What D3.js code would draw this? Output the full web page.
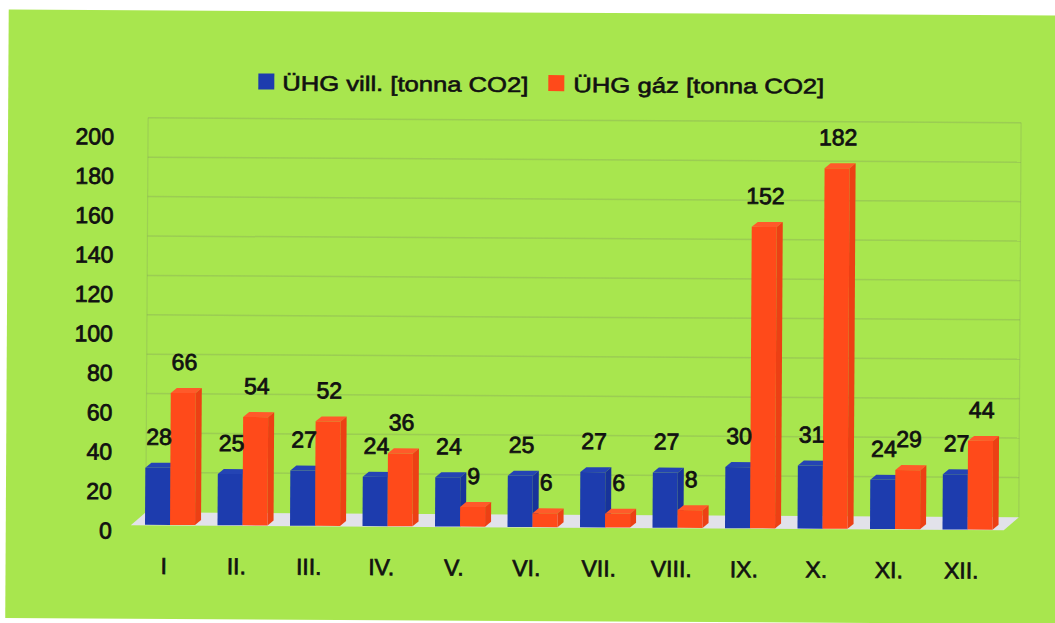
<!DOCTYPE html>
<html>
<head>
<meta charset="utf-8">
<script src="https://cdn.jsdelivr.net/npm/d3@7"></script>
<style>
  html, body { margin: 0; padding: 0; background: #ffffff; }
  svg { display: block; }
  text { font-family: "Liberation Sans", Arial, sans-serif; fill: #111; }
</style>
</head>
<body>
<svg id="chart" width="1055" height="623"></svg>
<script>
// Monthly greenhouse-gas emissions (tonnes CO2), electricity vs. gas
const months = ["I", "II.", "III.", "IV.", "V.", "VI.", "VII.", "VIII.", "IX.", "X.", "XI.", "XII."];
const elecValues = [28, 25, 27, 24, 24, 25, 27, 27, 30, 31, 24, 27];
const gasValues = [66, 54, 52, 36, 9, 6, 6, 8, 152, 182, 29, 44];
const seriesNames = ["ÜHG vill. [tonna CO2]", "ÜHG gáz [tonna CO2]"];
const seriesKeys = ["elec", "gas"];
const yTicks = [0, 20, 40, 60, 80, 100, 120, 140, 160, 180, 200];

const W = 1055, H = 623;
const colors = {
  elec: { front: "#1d3cae", top: "#2444b4", side: "#17339a" },
  gas:  { front: "#ff4a1a", top: "#ff5a2a", side: "#ec4014" }
};
const depthX = 6, depthY = 5;      // bar depth offsets
const wallX = 15, wallY = 13;      // floor / back wall offset
const floorFront = 527.5;

const rows = months.map((m, i) => ({ month: m, elec: elecValues[i], gas: gasValues[i] }));

const svg = d3.select("#chart");
const root = svg.append("g").attr("transform", `rotate(0.33, ${W / 2}, ${H / 2})`);

// green panel
root.append("rect")
  .attr("x", 7).attr("y", 12.5)
  .attr("width", 1053).attr("height", 608.5)
  .attr("fill", "#a8e64e");

const x0 = d3.scaleBand().domain(months).range([135, 1005]).paddingInner(0.31).paddingOuter(0.155);
const x1 = d3.scaleBand().domain(seriesKeys).range([0, x0.bandwidth()]);
const y = d3.scaleLinear().domain([0, 200]).range([525, 131]);

const backLeft = x0.range()[0] + wallX - 3;
const backRight = x0.range()[1] + wallX;

// floor
const fl = x0.range()[0] - 3, fr = x0.range()[1];
root.append("path")
  .attr("d", `M${fl},${floorFront} L${fr},${floorFront} L${fr + wallX},${floorFront - wallY} L${fl + wallX},${floorFront - wallY} Z`)
  .attr("fill", "#e2e2ea");

// back wall gridlines
const grid = root.append("g");
grid.selectAll("line.h").data(yTicks.filter(d => d > 0)).join("line")
  .attr("x1", backLeft).attr("x2", backRight)
  .attr("y1", d => y(d) - 11).attr("y2", d => y(d) - 11)
  .attr("stroke", "rgba(110,120,100,0.22)").attr("stroke-width", 1.5);
grid.selectAll("line.v").data([backLeft, backRight]).join("line")
  .attr("x1", d => d).attr("x2", d => d)
  .attr("y1", y(200) - 11).attr("y2", floorFront - wallY)
  .attr("stroke", "rgba(110,120,100,0.2)").attr("stroke-width", 1.2);

// y axis labels
const yAxis = root.append("g")
  .attr("transform", "translate(113, 8)")
  .call(d3.axisLeft(y).tickValues(yTicks).tickSize(0).tickPadding(0).tickFormat(d3.format("d")));
yAxis.select(".domain").remove();
yAxis.selectAll("text")
  .attr("font-size", 23).attr("font-family", "Liberation Sans, Arial, sans-serif")
  .attr("fill", "#111").attr("stroke", "#111").attr("stroke-width", 0.8);

// x axis labels
const xAxis = root.append("g")
  .attr("transform", "translate(-6, 576)")
  .call(d3.axisBottom(x0).tickSize(0).tickPadding(0));
xAxis.select(".domain").remove();
xAxis.selectAll("text")
  .attr("y", 0).attr("dy", 0)
  .attr("font-size", 23).attr("font-family", "Liberation Sans, Arial, sans-serif")
  .attr("fill", "#111").attr("stroke", "#111").attr("stroke-width", 0.7);

// 3D bars
const groups = root.append("g").selectAll("g").data(rows).join("g")
  .attr("transform", d => `translate(${x0(d.month)},0)`);

seriesKeys.forEach(key => {
  const bw = x1.bandwidth();
  const g = groups.append("g").attr("class", "bar-" + key);
  const bx = x1(key);
  // front
  g.append("rect")
    .attr("x", bx).attr("width", bw)
    .attr("y", d => y(d[key]))
    .attr("height", d => floorFront - 0.5 - y(d[key]))
    .attr("fill", colors[key].front);
  // top
  g.append("path")
    .attr("d", d => {
      const t = y(d[key]);
      return `M${bx},${t} L${bx + depthX},${t - depthY} L${bx + bw + depthX},${t - depthY} L${bx + bw},${t} Z`;
    })
    .attr("fill", colors[key].top);
  // side
  g.append("path")
    .attr("d", d => {
      const t = y(d[key]), b = floorFront - 0.5;
      return `M${bx + bw},${t} L${bx + bw + depthX},${t - depthY} L${bx + bw + depthX},${b - depthY} L${bx + bw},${b} Z`;
    })
    .attr("fill", colors[key].side);
});

// value labels
seriesKeys.forEach(key => {
  groups.append("text")
    .attr("x", x1(key) + x1.bandwidth() / 2 + 1)
    .attr("y", d => y(d[key]) - 23)
    .attr("text-anchor", "middle")
    .attr("font-size", 23)
    .attr("stroke", "#111").attr("stroke-width", 0.8)
    .text(d => d[key]);
});

// legend
const legendItems = [
  { key: "elec", name: seriesNames[0], sx: 257, tx: 281, len: 246 },
  { key: "gas", name: seriesNames[1], sx: 547, tx: 572, len: 251 }
];
const legend = root.append("g");
legendItems.forEach(it => {
  legend.append("rect")
    .attr("x", it.sx).attr("y", 75).attr("width", 16).attr("height", 16)
    .attr("fill", colors[it.key].front);
  legend.append("text")
    .attr("x", it.tx).attr("y", 92)
    .attr("font-size", 21)
    .attr("textLength", it.len).attr("lengthAdjust", "spacingAndGlyphs")
    .attr("stroke", "#111").attr("stroke-width", 0.6)
    .text(it.name);
});
</script>
</body>
</html>
